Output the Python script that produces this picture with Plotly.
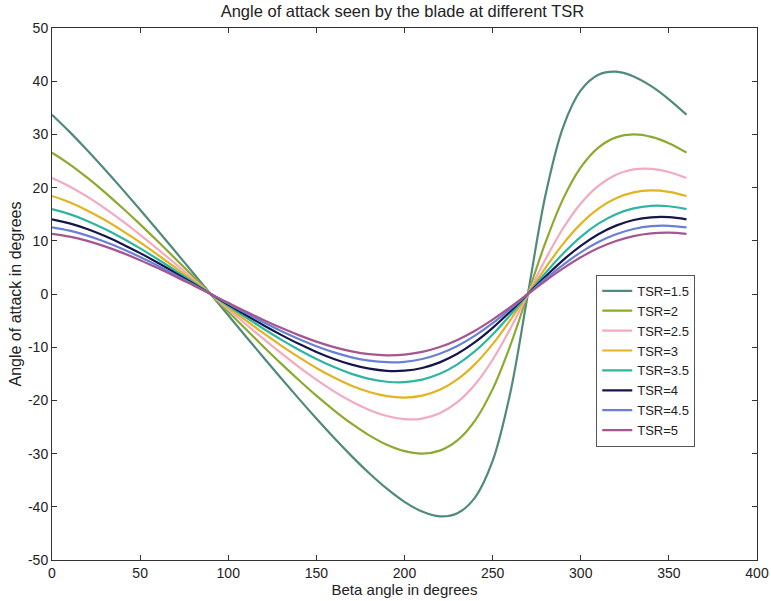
import plotly.graph_objects as go

beta = list(range(0, 361, 10))

tsr_labels = ["TSR=1.5", "TSR=2", "TSR=2.5", "TSR=3", "TSR=3.5", "TSR=4", "TSR=4.5", "TSR=5"]

aoa_tsr_1_5 = [33.69, 30.47, 27.03, 23.41, 19.67, 15.83, 11.93, 7.98, 3.99, 0,
               -3.99, -7.98, -11.93, -15.83, -19.67, -23.41, -27.03, -30.47, -33.69,
               -36.59, -39.06, -40.89, -41.79, -41.20, -38.26, -31.39, -18.62, 0,
               18.62, 31.39, 38.26, 41.20, 41.79, 40.89, 39.06, 36.59, 33.69]
aoa_tsr_2 = [26.57, 24.38, 21.86, 19.11, 16.16, 13.08, 9.90, 6.64, 3.33, 0,
             -3.33, -6.64, -9.90, -13.08, -16.16, -19.11, -21.86, -24.38, -26.57,
             -28.34, -29.54, -30.00, -29.44, -27.52, -23.79, -17.88, -9.70, 0,
             9.70, 17.88, 23.79, 27.52, 29.44, 30.00, 29.54, 28.34, 26.57]
aoa_tsr_2_5 = [21.80, 20.22, 18.30, 16.10, 13.70, 11.13, 8.45, 5.68, 2.85, 0,
               -2.85, -5.68, -8.45, -11.13, -13.70, -16.10, -18.30, -20.22, -21.80,
               -22.94, -23.53, -23.41, -22.42, -20.34, -17.02, -12.36, -6.54, 0,
               6.54, 12.36, 17.02, 20.34, 22.42, 23.41, 23.53, 22.94, 21.80]
aoa_tsr_3 = [18.43, 17.24, 15.71, 13.90, 11.87, 9.69, 7.37, 4.96, 2.49, 0,
             -2.49, -4.96, -7.37, -9.69, -11.87, -13.90, -15.71, -17.24, -18.43,
             -19.21, -19.47, -19.11, -18.00, -16.05, -13.18, -9.43, -4.92, 0,
             4.92, 9.43, 13.18, 16.05, 18.00, 19.11, 19.47, 19.21, 18.43]
aoa_tsr_3_5 = [15.95, 15.01, 13.74, 12.21, 10.47, 8.57, 6.53, 4.40, 2.22, 0,
               -2.22, -4.40, -6.53, -8.57, -10.47, -12.21, -13.74, -15.01, -15.95,
               -16.49, -16.57, -16.10, -15.01, -13.23, -10.75, -7.61, -3.95, 0,
               3.95, 7.61, 10.75, 13.23, 15.01, 16.10, 16.57, 16.49, 15.95]
aoa_tsr_4 = [14.04, 13.28, 12.21, 10.89, 9.37, 7.68, 5.87, 3.96, 1.99, 0,
             -1.99, -3.96, -5.87, -7.68, -9.37, -10.89, -12.21, -13.28, -14.04,
             -14.44, -14.41, -13.90, -12.85, -11.24, -9.06, -6.38, -3.30, 0,
             3.30, 6.38, 9.06, 11.24, 12.85, 13.90, 14.41, 14.44, 14.04]
aoa_tsr_4_5 = [12.53, 11.90, 10.98, 9.83, 8.47, 6.96, 5.32, 3.60, 1.81, 0,
               -1.81, -3.60, -5.32, -6.96, -8.47, -9.83, -10.98, -11.90, -12.53,
               -12.82, -12.74, -12.21, -11.23, -9.77, -7.83, -5.49, -2.83, 0,
               2.83, 5.49, 7.83, 9.77, 11.23, 12.21, 12.74, 12.82, 12.53]
aoa_tsr_5 = [11.31, 10.78, 9.98, 8.95, 7.73, 6.36, 4.87, 3.30, 1.66, 0,
             -1.66, -3.30, -4.87, -6.36, -7.73, -8.95, -9.98, -10.78, -11.31,
             -11.53, -11.40, -10.89, -9.97, -8.63, -6.90, -4.81, -2.48, 0,
             2.48, 4.81, 6.90, 8.63, 9.97, 10.89, 11.40, 11.53, 11.31]

series = [aoa_tsr_1_5, aoa_tsr_2, aoa_tsr_2_5, aoa_tsr_3,
          aoa_tsr_3_5, aoa_tsr_4, aoa_tsr_4_5, aoa_tsr_5]
colors = ["#4f8a7c", "#8caa30", "#f2aac2", "#e2b322",
          "#2fb5a0", "#16164a", "#6a80d6", "#a6558e"]

x_ticks = [0, 50, 100, 150, 200, 250, 300, 350, 400]
y_ticks = [-50, -40, -30, -20, -10, 0, 10, 20, 30, 40, 50]

FONT = "Liberation Sans, Arial, sans-serif"

fig = go.Figure()
for name, ys, col in zip(tsr_labels, series, colors):
    fig.add_trace(go.Scatter(x=beta, y=ys, mode="lines", name=name,
                             line=dict(color=col, width=2.2, shape="spline", smoothing=1.0)))

axis_common = dict(showline=True, linecolor="#333333", linewidth=1, mirror="ticks",
                   ticks="inside", ticklen=5, tickcolor="#333333", showgrid=False,
                   zeroline=False, automargin=False,
                   tickfont=dict(family=FONT, size=14, color="#222"))

fig.update_layout(
    width=771, height=601,
    margin=dict(l=52, r=14, t=28, b=41),
    paper_bgcolor="white", plot_bgcolor="white",
    font=dict(family=FONT, size=14, color="#222"),
    title=dict(text="Angle of attack seen by the blade at different TSR",
               x=0.522, xanchor="center", y=0.981, yanchor="middle",
               font=dict(family=FONT, size=16.5, color="#222")),
    xaxis=dict(range=[0, 400], tickvals=x_ticks, ticktext=[str(v) for v in x_ticks],
               title=dict(text="Beta angle in degrees", standoff=3,
                          font=dict(family=FONT, size=15, color="#222")),
               **axis_common),
    yaxis=dict(range=[-50, 50], tickvals=y_ticks, ticktext=[str(v) for v in y_ticks],
               title=dict(text="Angle of attack in degrees", standoff=2,
                          font=dict(family=FONT, size=16, color="#222")),
               **axis_common),
    legend=dict(x=0.772, y=0.536, xanchor="left", yanchor="top",
                bgcolor="white", bordercolor="#555", borderwidth=1,
                font=dict(family=FONT, size=13, color="#222"),
                tracegroupgap=0, itemwidth=30),
    showlegend=True,
)

fig.write_html("out.html")
